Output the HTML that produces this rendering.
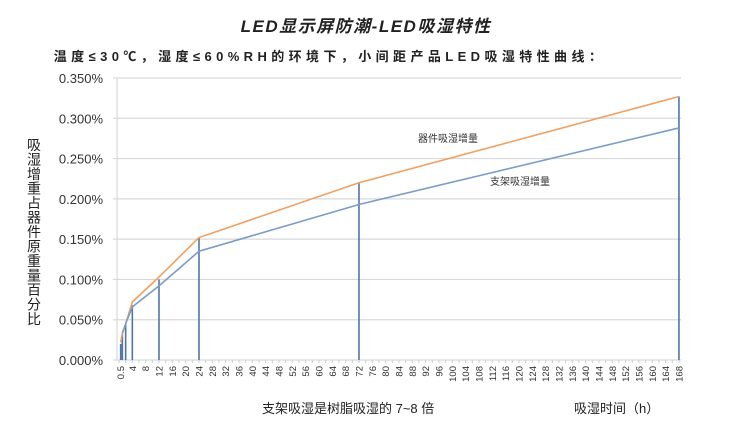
<!DOCTYPE html>
<html><head><meta charset="utf-8"><style>
body{margin:0;background:#fff;width:731px;height:434px;overflow:hidden;font-family:"Liberation Sans","Noto Sans CJK SC",sans-serif}
</style></head><body>
<svg width="731" height="434" font-family="Liberation Sans, Noto Sans CJK SC, sans-serif">
<text x="366" y="32" text-anchor="middle" font-size="17" font-weight="bold" font-style="italic" fill="#222" letter-spacing="1.5">LED显示屏防潮-LED吸湿特性</text>
<text x="330" y="61" text-anchor="middle" font-size="13" font-weight="bold" fill="#222" letter-spacing="4.4">温度≤30℃，湿度≤60%RH的环境下，小间距产品LED吸湿特性曲线：</text>
<g id="grid"></g><g id="ylabels"></g><g id="xlabels"></g><g id="drops"></g><g id="lines"></g>
<text x="34" y="150" font-size="14" fill="#222" text-anchor="middle">
<tspan x="34" dy="0">吸</tspan><tspan x="34" dy="14.5">湿</tspan><tspan x="34" dy="14.5">增</tspan><tspan x="34" dy="14.5">重</tspan><tspan x="34" dy="14.5">占</tspan><tspan x="34" dy="14.5">器</tspan><tspan x="34" dy="14.5">件</tspan><tspan x="34" dy="14.5">原</tspan><tspan x="34" dy="14.5">重</tspan><tspan x="34" dy="14.5">量</tspan><tspan x="34" dy="14.5">百</tspan><tspan x="34" dy="14.5">分</tspan><tspan x="34" dy="14.5">比</tspan></text>
<text x="418" y="142" font-size="10" fill="#333">器件吸湿增量</text>
<text x="490" y="185" font-size="10" fill="#333">支架吸湿增量</text>
<text x="262" y="413" font-size="13" fill="#222">支架吸湿是树脂吸湿的 7~8 倍</text>
<text x="574" y="413" font-size="13" fill="#222">吸湿时间（h）</text>
</svg>
<script>
const yTicks=[0,0.05,0.1,0.15,0.2,0.25,0.3,0.35];
const xTickLabels=[0.5,4,8,12,16,20,24,28,32,36,40,44,48,52,56,60,64,68,72,76,80,84,88,92,96,100,104,108,112,116,120,124,128,132,136,140,144,148,152,156,160,164,168];
const hours=[0.5,1,2,4,12,24,72,168];
const device=[0.022,0.033,0.045,0.072,0.103,0.152,0.220,0.327];
const bracketH=[1,2,4,12,24,72,168];
const bracket=[0.033,0.045,0.066,0.092,0.135,0.193,0.288];
const dropH=[0.5,1,2,4,12,24,72,168];
const dropV=[0.020,0.033,0.045,0.068,0.100,0.152,0.220,0.327];
const NS="http://www.w3.org/2000/svg";
const X=h=>119+h*3.333, Y=v=>360-v*(282/0.35);
function mk(t,a,p){const e=document.createElementNS(NS,t);for(const k in a)e.setAttribute(k,a[k]);p.appendChild(e);return e;}
const g=document.getElementById('grid'),yl=document.getElementById('ylabels'),xl=document.getElementById('xlabels'),dr=document.getElementById('drops'),ln=document.getElementById('lines');
yTicks.forEach(v=>{
 const l=mk('line',{x1:113,x2:681,y1:Y(v),y2:Y(v),stroke:'#d9d9d9','stroke-width':1.2},g);
 
 
 const t=mk('text',{x:103,y:Y(v)+5,'text-anchor':'end','font-size':13,fill:'#333'},yl);
 
 
 t.textContent=v.toFixed(3)+'%';
});
const vl=mk('line',{x1:117,x2:117,y1:Y(0.35),y2:360,stroke:'#d9d9d9','stroke-width':1.2},g);


for(let h=0;h<=168;h+=2){const m=mk('line',{x1:X(h),x2:X(h),y1:360,y2:363,stroke:'#ccc','stroke-width':1},g);
 
 }
xTickLabels.forEach(h=>{
 const x=X(h)+3.5;
 const t=mk('text',{x:x,y:366,transform:`rotate(-90 ${x} 366)`,'text-anchor':'end','font-size':9.5,fill:'#333'},xl);
 
 
 t.textContent=h;
});
dropH.forEach((h,i)=>{
 const d=mk('line',{x1:X(h),x2:X(h),y1:360,y2:Y(dropV[i]),stroke:'#4f75ab','stroke-width':1.6},dr);
 
 
});
const p1=mk('polyline',{points:hours.map((h,i)=>X(h)+','+Y(device[i])).join(' '),fill:'none',stroke:'#f0a060','stroke-width':1.6},ln);


const p2=mk('polyline',{points:bracketH.map((h,i)=>X(h)+','+Y(bracket[i])).join(' '),fill:'none',stroke:'#7a9cc8','stroke-width':1.6},ln);


</script>
</body></html>
